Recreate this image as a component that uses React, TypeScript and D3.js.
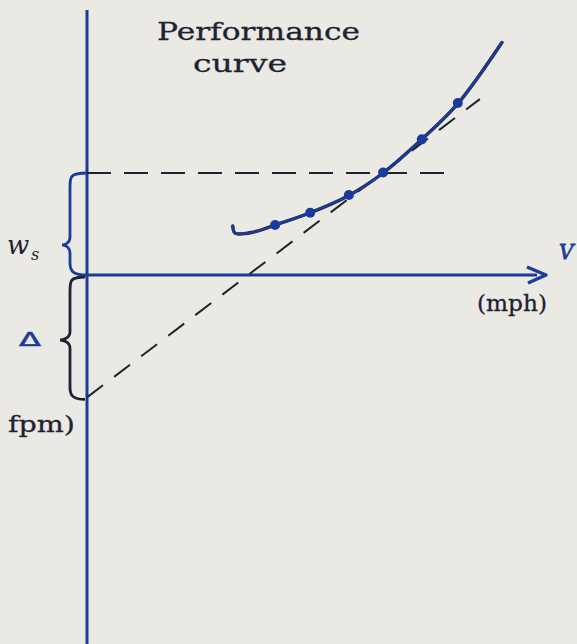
import React from "react";
import * as d3 from "d3";

// ---- data (chart units: speed in mph, sink rate in fpm-like units) ----
const curveSpeed = [32.4, 32.9, 36.9, 41.8, 49.6, 58.2, 65.8, 74.4, 82.4, 92.2];
const curveSink = [48, 41, 42, 49, 61, 78, 100, 133, 168, 228];
const dotSpeed = [41.8, 49.6, 58.2, 65.8, 74.4, 82.4];
const dotSink = [49, 61, 78.4, 100.5, 133, 168.6];
const wsLevel = [100];
const deltaLevel = [-120];
const tangentSlope = [3.35];
const tangentEnd = [87.3];
const wsLineEnd = [81.8];
const titleLines = ["Performance", "curve"];
const axisLabels = ["(mph)", "V", "fpm)"];

const W = 577;
const H = 644;
const BLUE = "#1c3a9c";
const INK = "#1f2230";
const PAPER = "#eae9e4";
const TYPE = "'DejaVu Serif', 'Liberation Serif', serif";

export default function App() {
  const x = d3.scaleLinear().domain([0, 100]).range([87, 537]);
  const y = d3.scaleLinear().domain([0, 100]).range([275, 173]);

  const curvePts: [number, number][] = curveSpeed.map((s, i) => [x(s), y(curveSink[i])]);
  const curvePath = d3.line().curve(d3.curveCatmullRom.alpha(0.5))(curvePts) || "";

  const tangent = d3.line()([
    [x(0), y(deltaLevel[0])],
    [x(tangentEnd[0]), y(deltaLevel[0] + tangentSlope[0] * tangentEnd[0])],
  ]) || "";

  const wsLine = d3.line()([
    [x(0), y(wsLevel[0])],
    [x(wsLineEnd[0]), y(wsLevel[0])],
  ]) || "";

  const x0 = x(0);
  const yTop = y(wsLevel[0]);
  const y0 = y(0);
  const yD = y(deltaLevel[0]);

  // brace helper: vertical curly brace opening right, from ya to yb, tip at ym
  const brace = (ya: number, yb: number, ym: number, xr: number, xm: number, xt: number) =>
    `M${xr},${ya} C${xm},${ya} ${xm},${ya + 4} ${xm},${ya + 14} L${xm},${ym - 8} C${xm},${ym - 2} ${xt + 3},${ym} ${xt},${ym}` +
    ` C${xt + 3},${ym} ${xm},${ym + 2} ${xm},${ym + 8} L${xm},${yb - 12} C${xm},${yb - 3} ${xm + 4},${yb} ${xr},${yb}`;

  return (
    <>
      <style>{`body{margin:0;background:${PAPER}}`}</style>
      <svg width={W} height={H} style={{ display: "block" }}>
        <rect x={0} y={0} width={W} height={H} fill={PAPER} />

        {/* title */}
        <text x={157} y={40} fontFamily={TYPE} fontSize={25} fill={INK} stroke={INK} strokeWidth={0.3}
          textLength={203} lengthAdjust="spacingAndGlyphs">{titleLines[0]}</text>
        <text x={193} y={72} fontFamily={TYPE} fontSize={25} fill={INK} stroke={INK} strokeWidth={0.3}
          textLength={94} lengthAdjust="spacingAndGlyphs">{titleLines[1]}</text>

        {/* axes */}
        <line x1={x0} y1={10} x2={x0} y2={H} stroke={BLUE} strokeWidth={3} />
        <line x1={x0} y1={y0} x2={537} y2={y0} stroke={BLUE} strokeWidth={3} />
        <path d={`M527,${y0 - 8} L546,${y0} L528,${y0 + 8}`} fill="none" stroke={BLUE} strokeWidth={3.5} strokeLinejoin="round" />

        {/* dashed construction lines */}
        <path d={wsLine} stroke={INK} strokeWidth={2} strokeDasharray="24 13" fill="none" />
        <path d={tangent} stroke={INK} strokeWidth={2} strokeDasharray="20 14" fill="none" />

        {/* performance curve */}
        <path d={curvePath} stroke={INK} strokeWidth={3.4} fill="none" strokeLinecap="round" />
        <path d={curvePath} stroke={BLUE} strokeWidth={2.6} fill="none" strokeLinecap="round" />
        {dotSpeed.map((s, i) => (
          <circle key={i} cx={x(s)} cy={y(dotSink[i])} r={5} fill={BLUE} />
        ))}

        {/* braces */}
        <path d={brace(yTop, y0, 245, x0, 70, 62)} fill="none" stroke={BLUE} strokeWidth={2.8} />
        <path d={brace(y0 + 2, yD + 2, 340, x0 - 2, 70, 60)} fill="none" stroke={INK} strokeWidth={2.8} />

        {/* left labels */}
        <text x={7} y={254} fontFamily={TYPE} fontStyle="italic" fontSize={26} fill={INK}>w</text>
        <text x={31} y={260} fontFamily={TYPE} fontStyle="italic" fontSize={16} fill={INK}>s</text>
        <text x={0} y={0} transform="translate(19,346) scale(1.6,1)" fontFamily="DejaVu Sans" fontSize={20}
          fill={BLUE} stroke={BLUE} strokeWidth={0.6}>Δ</text>
        <text x={8} y={432} fontFamily={TYPE} fontSize={23} fill={INK} stroke={INK} strokeWidth={0.3}
          textLength={67} lengthAdjust="spacingAndGlyphs">{axisLabels[2]}</text>

        {/* x label */}
        <text x={477} y={311} fontFamily={TYPE} fontSize={22} fill={INK} stroke={INK} strokeWidth={0.3}
          textLength={70} lengthAdjust="spacingAndGlyphs">{axisLabels[0]}</text>
        <text x={559} y={259} fontFamily={TYPE} fontStyle="italic" fontSize={20} fill={BLUE} stroke={BLUE} strokeWidth={0.8}>{axisLabels[1]}</text>
      </svg>
    </>
  );
}
